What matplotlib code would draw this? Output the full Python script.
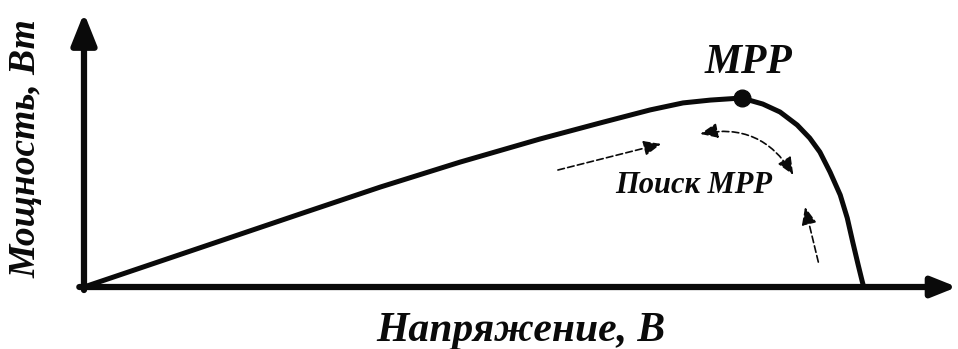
import matplotlib.pyplot as plt

# P-V characteristic of a PV module (normalised: V / Voc, P / Pmax)
voltage = [0.0, 0.276, 0.379, 0.481, 0.583, 0.660, 0.724, 0.766, 0.801, 0.841,
           0.868, 0.890, 0.912, 0.928, 0.941, 0.954, 0.967, 0.976, 0.983,
           0.990, 0.995, 0.997]
power = [0.0, 0.386, 0.529, 0.661, 0.783, 0.868, 0.937, 0.974, 0.989, 1.0,
         0.968, 0.926, 0.857, 0.788, 0.714, 0.608, 0.487, 0.365, 0.238,
         0.116, 0.032, 0.0]
mpp = (0.841, 1.0)

# search arrows around the MPP: (tail, head)
search_in = ((0.606, 0.619), (0.738, 0.757))
search_swing = ((0.788, 0.810), (0.907, 0.593))
search_up = ((0.939, 0.132), (0.922, 0.423))

label_x = "Напряжение, В"
label_y = "Мощность, Вт"
label_mpp = "MPP"
label_search = "Поиск MPP"

plt.rcParams['font.family'] = ['Liberation Serif', 'DejaVu Serif']
ink = '#0a0a0a'

fig = plt.figure(figsize=(9.58, 3.49), dpi=100)
ax = fig.add_axes([0, 0, 1, 1])
ax.set_xlim(-0.1074, 1.1176)
ax.set_ylim(-0.328, 1.5185)
ax.axis('off')

# axes with arrow heads
ax.annotate('', xy=(1.1164, 0), xytext=(-0.006, 0),
            arrowprops=dict(arrowstyle='-|>,head_length=0.75,head_width=0.3',
                            lw=4.5, color=ink, shrinkA=0, shrinkB=0,
                            mutation_scale=20))
ax.annotate('', xy=(0, 1.45), xytext=(0, -0.016),
            arrowprops=dict(arrowstyle='-|>,head_length=0.95,head_width=0.38',
                            lw=4.5, color=ink, shrinkA=0, shrinkB=0,
                            mutation_scale=20))

# characteristic and the maximum power point
ax.plot(voltage, power, color=ink, lw=3.6, solid_joinstyle='round',
        solid_capstyle='butt')
ax.plot(*mpp, 'o', color=ink, ms=12)
ax.annotate(label_mpp, xy=mpp, xytext=(5, 25), textcoords='offset points',
            ha='center', va='center', fontsize=30, fontweight='bold',
            fontstyle='italic', color=ink)

# dashed search arrows
dash_props = dict(lw=1.2, color=ink, linestyle=(0, (4, 2)),
                  shrinkA=0, shrinkB=0, mutation_scale=15)
ax.annotate('', xy=search_in[1], xytext=search_in[0],
            arrowprops=dict(arrowstyle='-|>,head_length=0.7,head_width=0.3',
                            **dash_props))
ax.annotate('', xy=search_swing[1], xytext=search_swing[0],
            arrowprops=dict(arrowstyle='<|-|>,head_length=0.7,head_width=0.3',
                            connectionstyle='arc3,rad=-0.35', **dash_props))
ax.annotate('', xy=search_up[1], xytext=search_up[0],
            arrowprops=dict(arrowstyle='-|>,head_length=0.7,head_width=0.3',
                            **dash_props))
ax.text(0.78, 0.535, label_search, ha='center', va='center', fontsize=22,
        fontweight='bold', fontstyle='italic', color=ink)

# axis titles
fig.text(521 / 958, 1 - 331 / 349, label_x, ha='center', va='center',
         fontsize=30, fontweight='bold', fontstyle='italic', color=ink)
fig.text(26 / 958, 1 - 149 / 349, label_y, ha='center', va='center',
         rotation=90, fontsize=27, fontweight='bold', fontstyle='italic',
         color=ink)

fig.savefig('out.png', dpi=100)
